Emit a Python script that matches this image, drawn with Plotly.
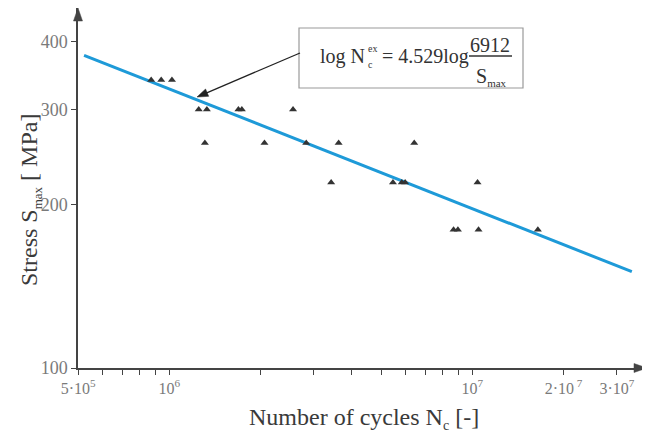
import math
import plotly.graph_objects as go

# ---- data ----
cycles = [8.71e5, 9.40e5, 1.02e6, 1.25e6, 1.33e6, 1.69e6, 1.735e6, 2.56e6,
          1.31e6, 2.06e6, 2.83e6, 3.62e6, 6.43e6, 3.42e6, 5.47e6, 5.85e6,
          6.00e6, 1.04e7, 8.67e6, 8.96e6, 1.048e7, 1.645e7]
stress = [340, 340, 340, 300, 300, 300, 300, 300,
          260, 260, 260, 260, 260, 220, 220, 220,
          220, 220, 180, 180, 180, 180]

# fitted curve: log Nc = 4.529 log(6912/Smax)
fit_m = 4.529
fit_c = 6912
fit_n = [5.23e5, 3.36e7]
fit_s = [fit_c / n ** (1 / fit_m) for n in fit_n]

x_major_vals = [5e5, 1e6, 1e7, 2e7, 3e7]
x_major_text = ["5·10<sup>5</sup>", "10<sup>6</sup>", "10<sup>7</sup>",
                "2·10<sup> 7</sup>", "3·10<sup>7</sup>"]
x_minor_vals = [6e5, 7e5, 8e5, 9e5, 2e6, 3e6, 4e6, 5e6, 6e6, 7e6, 8e6, 9e6]
y_tickvals = [100, 200, 300, 400]
y_ticktext = ["100", "200", "300", "400"]

# ---- geometry: reference pixel coords; page body has an 8px margin ----
OFF = 8
W, H = 650 - OFF, 441 - OFF
X0, X1 = 78, 647     # plot area left/right in reference px
Y0, Y1 = 8, 368      # plot area top/bottom in reference px
L, R = X0 - OFF, 650 - X1
T, B = Y0 - OFF, 441 - Y1
PW, PH = X1 - X0, Y1 - Y0


def px(x):
    return (x - X0) / PW


def py(y):
    return (Y1 - y) / PH


SERIF = "Liberation Serif, Times New Roman, serif"
AX = "#444444"

fig = go.Figure()
fig.add_trace(go.Scatter(x=fit_n, y=fit_s, mode="lines",
                         line=dict(color="#1e9ad8", width=3),
                         hoverinfo="skip", showlegend=False))
fig.add_trace(go.Scatter(x=cycles, y=stress, mode="markers",
                         marker=dict(symbol="triangle-up", size=7,
                                     color="#333333"),
                         showlegend=False))

fig.update_layout(
    width=W, height=H,
    margin=dict(l=L, r=R, t=T, b=B, autoexpand=False),
    paper_bgcolor="white", plot_bgcolor="white",
    font=dict(family=SERIF, color="#333333"),
    xaxis=dict(type="log", range=[5.6985, 5.6985 + PW / 303.0],
               tickmode="array", tickvals=x_major_vals, ticktext=x_major_text,
               ticks="outside", ticklen=5, tickcolor=AX, tickwidth=1.3,
               minor=dict(tickmode="array", tickvals=x_minor_vals,
                          ticks="outside", ticklen=5, tickcolor=AX,
                          tickwidth=1.3, showgrid=False),
               showline=True, linecolor=AX, linewidth=1.5,
               showgrid=False, zeroline=False,
               tickfont=dict(family=SERIF, size=16, color="#7a7a7a")),
    yaxis=dict(type="log", range=[2.0, 2.0 + PH / 542.0],
               tickvals=y_tickvals, ticktext=y_ticktext,
               ticks="outside", ticklen=5, tickcolor=AX, tickwidth=1.3,
               showline=True, linecolor=AX, linewidth=1.5,
               showgrid=False, zeroline=False,
               tickfont=dict(family=SERIF, size=18, color="#7a7a7a")),
)

ann = []
# axis titles
ann.append(dict(xref="paper", yref="paper", x=px(364), y=py(418),
                text='Number of cycles N<sub><span style="font-size:14px">c</span></sub> [-]',
                showarrow=False,
                font=dict(family=SERIF, size=24, color="#3a3a3a"),
                xanchor="center", yanchor="middle"))
ann.append(dict(xref="paper", yref="paper", x=px(30), y=py(200),
                text='Stress S<sub><span style="font-size:13px">max</span></sub> [ MPa]',
                showarrow=False, textangle=-90,
                font=dict(family=SERIF, size=24, color="#3a3a3a"),
                xanchor="center", yanchor="middle"))
# equation pieces
EQF = dict(family=SERIF, size=20, color="#333333")
SMALL = dict(family=SERIF, size=10, color="#333333")
ann.append(dict(xref="paper", yref="paper", x=px(318), y=py(57),
                text="log N", showarrow=False, font=EQF,
                xanchor="left", yanchor="middle"))
ann.append(dict(xref="paper", yref="paper", x=px(366), y=py(48),
                text="ex", showarrow=False, font=SMALL,
                xanchor="left", yanchor="middle"))
ann.append(dict(xref="paper", yref="paper", x=px(366), y=py(64),
                text="c", showarrow=False, font=SMALL,
                xanchor="left", yanchor="middle"))
ann.append(dict(xref="paper", yref="paper", x=px(380), y=py(57),
                text="= 4.529log", showarrow=False, font=EQF,
                xanchor="left", yanchor="middle"))
ann.append(dict(xref="paper", yref="paper", x=px(490), y=py(45),
                text="6912", showarrow=False, font=EQF,
                xanchor="center", yanchor="middle"))
ann.append(dict(xref="paper", yref="paper", x=px(491), y=py(77),
                text='S<sub><span style="font-size:11px">max</span></sub>',
                showarrow=False, font=EQF,
                xanchor="center", yanchor="middle"))
fig.update_layout(annotations=ann)


def tri_path(tip, frm, length, half):
    dx, dy = tip[0] - frm[0], tip[1] - frm[1]
    n = math.hypot(dx, dy)
    ux, uy = dx / n, dy / n
    bx, by = tip[0] - ux * length, tip[1] - uy * length
    nx, ny = -uy, ux
    pts = [tip, (bx + nx * half, by + ny * half), (bx - nx * half, by - ny * half)]
    return "M " + " L ".join(f"{px(a):.5f},{py(b):.5f}" for a, b in pts) + " Z"


# annotation box
fig.add_shape(type="rect", xref="paper", yref="paper",
              x0=px(299), x1=px(523), y0=py(88), y1=py(28),
              line=dict(color="#9a9a9a", width=1.2), fillcolor="white",
              layer="below")
# fraction bar
fig.add_shape(type="line", xref="paper", yref="paper",
              x0=px(469), x1=px(512), y0=py(56), y1=py(56),
              line=dict(color="#333333", width=1.5))
# pointer arrow
p_from, p_tip = (300, 53), (197, 97)
fig.add_shape(type="line", xref="paper", yref="paper",
              x0=px(p_from[0]), y0=py(p_from[1]),
              x1=px(p_tip[0] + 8), y1=py(p_tip[1] - 3.4),
              line=dict(color="#222222", width=1.3))
fig.add_shape(type="path", xref="paper", yref="paper",
              path=tri_path(p_tip, p_from, 11, 4),
              fillcolor="#222222", line=dict(color="#222222", width=0.5))
# axis arrowheads
fig.add_shape(type="path", xref="paper", yref="paper",
              path=tri_path((647, 368), (600, 368), 13, 4.5),
              fillcolor=AX, line=dict(color=AX, width=0.5))
fig.add_shape(type="path", xref="paper", yref="paper",
              path=tri_path((78, 8), (78, 60), 13, 4.5),
              fillcolor=AX, line=dict(color=AX, width=0.5))

fig.write_html("out.html")
